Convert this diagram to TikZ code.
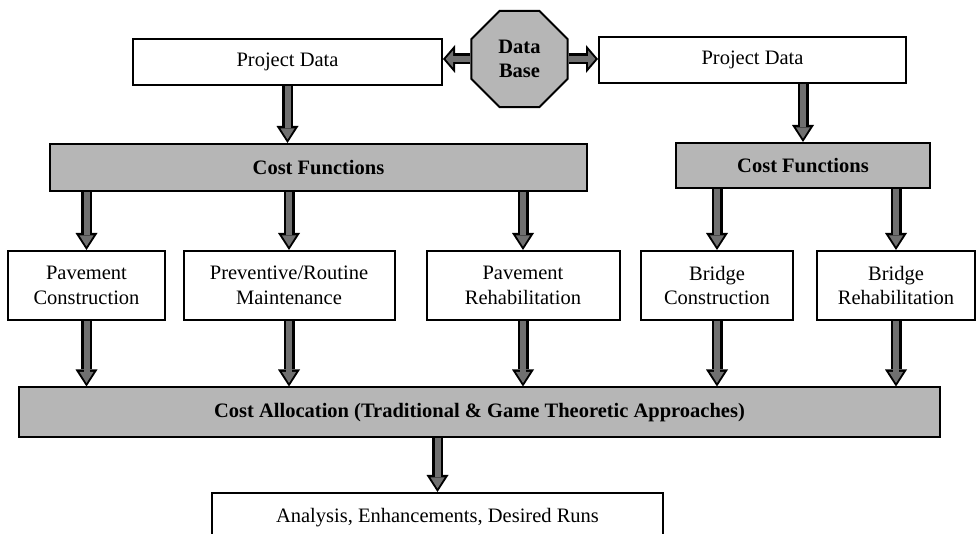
\documentclass[tikz,border=0pt]{standalone}
\usepackage{fontspec}
\setmainfont{Liberation Serif}
\usetikzlibrary{arrows.meta, shapes.geometric, positioning}
\definecolor{boxgray}{RGB}{182,182,182}
\definecolor{arrowgray}{RGB}{112,112,112}

\begin{document}
\begin{tikzpicture}[x=1pt, y=-1pt]
\tikzstyle{main}=[rectangle, draw=black, line width=2pt, fill=white, align=center, inner sep=0pt, font=\fontsize{20.5}{24.5}\selectfont]
\tikzstyle{shade}=[main, fill=boxgray, font=\fontsize{20.5}{24.5}\selectfont\bfseries]
\tikzstyle{store}=[regular polygon, regular polygon sides=8, minimum size=104pt, inner sep=0pt, draw=black, line width=2pt, fill=boxgray, align=center, font=\fontsize{20.5}{24.5}\selectfont\bfseries]
\tikzstyle{connect}=[line width=11pt, draw=black, -{Triangle[width=22pt, length=17pt, line width=0pt]}, postaction={draw=arrowgray, line width=6pt, -{Triangle[width=14pt, length=11pt, line width=0pt]}, shorten >=3.5pt}]
\tikzstyle{link}=[line width=11pt, draw=black, -{Triangle[width=28pt, length=12pt, line width=0pt]}, postaction={draw=arrowgray, line width=6pt, -{Triangle[width=17pt, length=7.4pt, line width=0pt]}, shorten >=2.6pt}]
    \useasboundingbox (0,0) rectangle (978,534);
    \clip (0,0) rectangle (978,534);
    % data sources
    \node[store] (DB) at (519.5,59) {Data\\Base};
    \node[main, minimum width=309pt, minimum height=46pt] (PD1) at (287.5,62) {Project Data};
    \node[main, minimum width=307pt, minimum height=46pt] (PD2) at (752.5,60) {Project Data};
    % cost functions
    \node[shade, minimum width=537pt, minimum height=47pt] (CF1) at (318.5,167.5) {Cost Functions};
    \node[shade, minimum width=254pt, minimum height=45pt] (CF2) at (803,165.5) {Cost Functions};
    % activities
    \node[main, minimum width=157pt, minimum height=69pt] (PC) at (86.5,285.5) {Pavement\\Construction};
    \node[main, minimum width=211pt, minimum height=69pt] (PRM) [right=16.5pt of PC] {Preventive/Routine\\Maintenance};
    \node[main, minimum width=193pt, minimum height=69pt] (PR) [right=30pt of PRM] {Pavement\\Rehabilitation};
    \node[main, minimum width=152pt, minimum height=69pt] (BC) [right=19.5pt of PR] {Bridge\\Construction};
    \node[main, minimum width=158pt, minimum height=69pt] (BR) [right=22pt of BC] {Bridge\\Rehabilitation};
    % allocation and output
    \node[shade, minimum width=921pt, minimum height=50pt] (CA) at (479.5,412.5) {Cost Allocation (Traditional \& Game Theoretic Approaches)};
    \node[main, minimum width=451pt, minimum height=50pt] (OUT) at (437.5,518) {Analysis, Enhancements, Desired Runs};
    \path (DB.west) edge [link] (DB.west -| PD1.east)
          (DB.east) edge [link] (DB.east -| PD2.west);
    \path (PD1.south) edge [connect] (PD1.south |- CF1.north)
          (PD2.south -| CF2.north) edge [connect] (CF2.north);
    \path (CF1.south -| PC.north) edge [connect] (PC.north)
          (CF1.south -| PRM.north) edge [connect] (PRM.north)
          (CF1.south -| PR.north) edge [connect] (PR.north)
          (CF2.south -| BC.north) edge [connect] (BC.north)
          (CF2.south -| BR.north) edge [connect] (BR.north);
    \path (PC.south) edge [connect] (PC.south |- CA.north)
          (PRM.south) edge [connect] (PRM.south |- CA.north)
          (PR.south) edge [connect] (PR.south |- CA.north)
          (BC.south) edge [connect] (BC.south |- CA.north)
          (BR.south) edge [connect] (BR.south |- CA.north);
    \path (CA.south -| OUT.north) edge [connect] (OUT.north);
\end{tikzpicture}
\end{document}
